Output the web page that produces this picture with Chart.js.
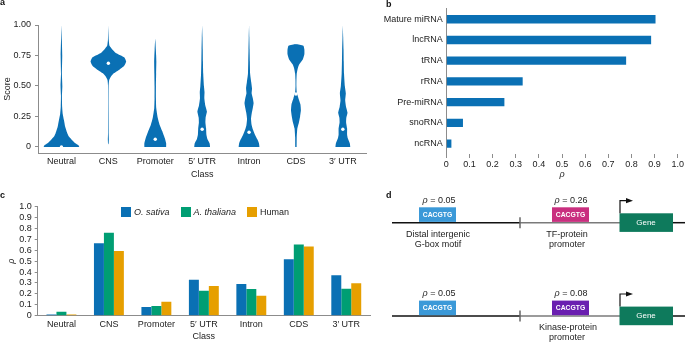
<!DOCTYPE html>
<html lang="en">
<head>
  <meta charset="UTF-8">
  <title>Conservation scores by class</title>
  <script src="https://cdn.jsdelivr.net/npm/chart.js"></script>
  <style>
    html, body { margin: 0; padding: 0; background: #fff; }
    body { width: 685px; height: 342px; position: relative; overflow: hidden;
           font-family: "Liberation Sans", Arial, sans-serif; color: #222; }
    canvas { position: absolute; }
    #chartA { left: 0; top: 0; }
    #chartB { left: 350px; top: 0; }
    #chartC { left: 0; top: 180px; }
    #legendC { position: absolute; left: 121px; top: 207px; display: flex; font-size: 9px; line-height: 10px; }
    #legendC .item { display: flex; align-items: center; margin-right: 11px; }
    #legendC .box { width: 10px; height: 10px; margin-right: 3px; }
    svg { position: absolute; left: 0; top: 0; pointer-events: none; }
  </style>
</head>
<body>
  <canvas id="chartA" width="372" height="180"></canvas>
  <canvas id="chartB" width="335" height="180"></canvas>
  <canvas id="chartC" width="372" height="162"></canvas>
  <div id="legendC"></div>

  <svg width="685" height="342" viewBox="0 0 685 342" font-family="Liberation Sans, Arial, sans-serif">
    <g font-weight="bold" font-size="9" fill="#111">
      <text x="0" y="5">a</text>
      <text x="386" y="7">b</text>
      <text x="0" y="198">c</text>
      <text x="386" y="198">d</text>
    </g>
    <!-- top locus: TF-protein -->
    <g>
      <line x1="392" y1="222.7" x2="520" y2="222.7" stroke="#111" stroke-width="1.5"/>
      <line x1="520" y1="222.7" x2="620" y2="222.7" stroke="#7a7a7a" stroke-width="1.5"/>
      <line x1="673" y1="222.7" x2="685" y2="222.7" stroke="#111" stroke-width="1.5"/>
      <line x1="520" y1="217.3" x2="520" y2="228.2" stroke="#666" stroke-width="1.5"/>
      <rect x="419" y="207.3" width="37" height="14.6" fill="#3b99d8"/>
      <text x="437.5" y="214.7" font-size="6.8" font-weight="bold" fill="#fff" text-anchor="middle" dominant-baseline="central">CACGTG</text>
      <text x="439" y="200" font-size="9" fill="#222" text-anchor="middle" dominant-baseline="central"><tspan font-style="italic">ρ</tspan> = 0.05</text>
      <rect x="552" y="207.3" width="37" height="14.6" fill="#c92f7f"/>
      <text x="570.5" y="214.7" font-size="6.8" font-weight="bold" fill="#fff" text-anchor="middle" dominant-baseline="central">CACGTG</text>
      <text x="571" y="200" font-size="9" fill="#222" text-anchor="middle" dominant-baseline="central"><tspan font-style="italic">ρ</tspan> = 0.26</text>
      <rect x="619.5" y="213.3" width="53.5" height="18.6" fill="#0e7a5c"/>
      <text x="646" y="222.7" font-size="8" fill="#fff" text-anchor="middle" dominant-baseline="central">Gene</text>
      <path d="M620 213.3 V200.7 H627" fill="none" stroke="#111" stroke-width="1.2"/>
      <path d="M626 198.1 L633 200.7 L626 203.3 Z" fill="#111"/>
      <text x="438" y="233.7" font-size="9" fill="#222" text-anchor="middle" dominant-baseline="central">Distal intergenic</text>
      <text x="438" y="244" font-size="9" fill="#222" text-anchor="middle" dominant-baseline="central">G-box motif</text>
      <text x="567" y="233.7" font-size="9" fill="#222" text-anchor="middle" dominant-baseline="central">TF-protein</text>
      <text x="567" y="244" font-size="9" fill="#222" text-anchor="middle" dominant-baseline="central">promoter</text>
    </g>
    <!-- bottom locus: kinase-protein -->
    <g transform="translate(0,93.3)">
      <line x1="392" y1="222.7" x2="520" y2="222.7" stroke="#111" stroke-width="1.5"/>
      <line x1="520" y1="222.7" x2="620" y2="222.7" stroke="#7a7a7a" stroke-width="1.5"/>
      <line x1="673" y1="222.7" x2="685" y2="222.7" stroke="#111" stroke-width="1.5"/>
      <line x1="520" y1="217.3" x2="520" y2="228.2" stroke="#666" stroke-width="1.5"/>
      <rect x="419" y="207.3" width="37" height="14.6" fill="#3b99d8"/>
      <text x="437.5" y="214.7" font-size="6.8" font-weight="bold" fill="#fff" text-anchor="middle" dominant-baseline="central">CACGTG</text>
      <text x="439" y="200" font-size="9" fill="#222" text-anchor="middle" dominant-baseline="central"><tspan font-style="italic">ρ</tspan> = 0.05</text>
      <rect x="552" y="207.3" width="37" height="14.6" fill="#6a1fb0"/>
      <text x="570.5" y="214.7" font-size="6.8" font-weight="bold" fill="#fff" text-anchor="middle" dominant-baseline="central">CACGTG</text>
      <text x="571" y="200" font-size="9" fill="#222" text-anchor="middle" dominant-baseline="central"><tspan font-style="italic">ρ</tspan> = 0.08</text>
      <rect x="619.5" y="213.3" width="53.5" height="18.6" fill="#0e7a5c"/>
      <text x="646" y="222.7" font-size="8" fill="#fff" text-anchor="middle" dominant-baseline="central">Gene</text>
      <path d="M620 213.3 V200.7 H627" fill="none" stroke="#111" stroke-width="1.2"/>
      <path d="M626 198.1 L633 200.7 L626 203.3 Z" fill="#111"/>
      <text x="568" y="233.7" font-size="9" fill="#222" text-anchor="middle" dominant-baseline="central">Kinase-protein</text>
      <text x="567" y="244" font-size="9" fill="#222" text-anchor="middle" dominant-baseline="central">promoter</text>
    </g>
  </svg>

  <script>
    // ---- data ----
    const classes = ['Neutral', 'CNS', 'Promoter', '5′ UTR', 'Intron', 'CDS', '3′ UTR'];
    const scoreTicks = [0, 0.25, 0.5, 0.75, 1];
    const scoreTickLabels = ['0', '0.25', '0.50', '0.75', '1.00'];
    const medianScore = [0, 0.686, 0.063, 0.145, 0.12, 0.434, 0.145];

    // violin outlines: score levels and relative density (half width) at each level
    const neutralLevels = [0, 0.015, 0.03, 0.055, 0.085, 0.115, 0.165, 0.22, 0.27, 0.33, 0.42, 0.5, 0.6, 0.75, 0.88, 1.0];
    const neutralDensity = [18, 17, 14, 10.8, 7.5, 5.8, 3.8, 2.5, 1.3, 0.7, 0.5, 0.9, 0.45, 0.8, 0.4, 0];
    const cnsLevels = [0.02, 0.03, 0.06, 0.09, 0.12, 0.3, 0.5, 0.55, 0.58, 0.6, 0.63, 0.665, 0.7, 0.735, 0.768, 0.8, 0.83, 0.88, 1.0];
    const cnsDensity = [0, 0.35, 0.5, 0.4, 0.3, 0.25, 0.3, 0.9, 2.8, 5, 10.7, 16, 18, 16, 8, 4, 1.2, 0.4, 0];
    const promoterLevels = [0, 0.03, 0.07, 0.13, 0.18, 0.24, 0.32, 0.4, 0.5, 0.6, 0.7, 0.75, 0.8, 0.86, 0.89];
    const promoterDensity = [11, 11, 9.7, 7, 4.5, 2.5, 1, 0.7, 0.7, 0.9, 1.1, 0.9, 0.6, 0.25, 0];
    const utr5Levels = [0, 0.03, 0.06, 0.1, 0.15, 0.2, 0.24, 0.29, 0.34, 0.4, 0.45, 0.5, 0.6, 0.7, 0.8, 0.9, 1.0];
    const utr5Density = [8, 7.5, 5.5, 4.3, 4, 3.3, 3.5, 4.8, 3.2, 2.2, 2.4, 1.8, 1.1, 0.8, 0.6, 0.35, 0];
    const intronLevels = [0, 0.03, 0.06, 0.1, 0.14, 0.18, 0.23, 0.28, 0.32, 0.36, 0.4, 0.44, 0.48, 0.53, 0.6, 0.7, 0.8, 0.9, 1.0];
    const intronDensity = [10.5, 10, 8.5, 6, 4, 2.6, 2, 2.8, 3.8, 4.6, 3.8, 2.6, 3, 2.2, 1.1, 0.8, 0.55, 0.3, 0];
    const cdsLevels = [0, 0.08, 0.15, 0.2, 0.25, 0.3, 0.35, 0.4, 0.45, 0.5, 0.55, 0.6, 0.65, 0.68, 0.72, 0.76, 0.8, 0.83, 0.845];
    const cdsDensity = [0.7, 0.8, 1.4, 3, 4.2, 5, 4.5, 2.5, 0.8, 0.45, 0.5, 0.8, 2, 3.5, 7, 8.5, 8.5, 7.5, 0];
    const utr3Levels = [0, 0.03, 0.07, 0.1, 0.15, 0.2, 0.24, 0.28, 0.33, 0.38, 0.44, 0.5, 0.6, 0.7, 0.8, 0.9, 1.0];
    const utr3Density = [7.5, 7, 5, 4.3, 4.3, 3.3, 3.5, 4.7, 3.2, 2.4, 3, 2, 1.2, 0.9, 0.7, 0.35, 0];

    const rnaClasses = ['Mature miRNA', 'lncRNA', 'tRNA', 'rRNA', 'Pre-miRNA', 'snoRNA', 'ncRNA'];
    const rnaRho = [0.904, 0.885, 0.777, 0.33, 0.251, 0.072, 0.022];

    const rhoTicks = [0, 0.1, 0.2, 0.3, 0.4, 0.5, 0.6, 0.7, 0.8, 0.9, 1.0];
    const rhoTickLabels = ['0', '0.1', '0.2', '0.3', '0.4', '0.5', '0.6', '0.7', '0.8', '0.9', '1.0'];

    const species = ['O. sativa', 'A. thaliana', 'Human'];
    const oSativaRho = [0.012, 0.664, 0.08, 0.33, 0.29, 0.517, 0.37];
    const aThalianaRho = [0.037, 0.761, 0.089, 0.229, 0.245, 0.654, 0.248];
    const humanRho = [0.01, 0.593, 0.128, 0.272, 0.183, 0.636, 0.297];

    // ---- styling ----
    const blue = '#0a70b4';
    const green = '#009e73';
    const orange = '#e69f00';
    const axisGrey = '#8c8c8c';
    const widestHalf = 0.38;   // widest violin half-width, in category units
    const maxDensity = 18;

    Chart.defaults.font.family = '"Liberation Sans", Arial, sans-serif';
    Chart.defaults.font.size = 9;
    Chart.defaults.color = '#222';
    Chart.defaults.animation = false;
    Chart.defaults.responsive = false;
    Chart.defaults.plugins.legend.display = false;
    Chart.defaults.plugins.tooltip.enabled = false;

    const fixTicks = values => axis => { axis.ticks = values.map(v => ({ value: v })); };

    // ---- a: violins ----
    const shapes = [
      [neutralLevels, neutralDensity], [cnsLevels, cnsDensity], [promoterLevels, promoterDensity],
      [utr5Levels, utr5Density], [intronLevels, intronDensity], [cdsLevels, cdsDensity], [utr3Levels, utr3Density]
    ];
    const violinSets = shapes.map(([levels, dens], i) => {
      const half = dens.map(d => d / maxDensity * widestHalf);
      const left = levels.map((y, k) => ({ x: i - half[k], y: y }));
      const right = levels.map((y, k) => ({ x: i + half[k], y: y })).reverse();
      return {
        label: classes[i],
        data: left.concat(right),
        showLine: true,
        fill: 'shape',
        backgroundColor: blue,
        borderWidth: 0,
        pointRadius: 0,
        tension: 0.15,
        order: 1
      };
    });

    new Chart(document.getElementById('chartA'), {
      type: 'scatter',
      data: {
        datasets: [{
          label: 'median',
          data: medianScore.map((m, i) => ({ x: i, y: m })),
          pointRadius: 1.7,
          backgroundColor: '#fff',
          borderWidth: 0,
          order: 0
        }].concat(violinSets)
      },
      options: {
        layout: { padding: { top: 25, right: 5.7, left: 0, bottom: 0 } },
        scales: {
          x: {
            type: 'linear', min: -0.5, max: 6.5,
            afterBuildTicks: fixTicks(classes.map((c, i) => i)),
            afterFit: s => { s.height = 27; },
            ticks: { callback: v => classes[v], autoSkip: false, maxRotation: 0, padding: 3.6 },
            grid: { display: false, drawTicks: false },
            border: { color: axisGrey },
            title: { display: true, text: 'Class', padding: 0 }
          },
          y: {
            min: -0.05, max: 1,
            afterBuildTicks: fixTicks(scoreTicks),
            afterFit: s => { s.width = 38; },
            ticks: { callback: (v, i) => scoreTickLabels[i], padding: 4 },
            grid: { drawOnChartArea: false, tickLength: 3, color: axisGrey },
            border: { color: axisGrey },
            title: { display: true, text: 'Score', padding: { top: 2, bottom: 0 } }
          }
        }
      }
    });

    // ---- b: horizontal bars ----
    new Chart(document.getElementById('chartB'), {
      type: 'bar',
      data: {
        labels: rnaClasses,
        datasets: [{ data: rnaRho, backgroundColor: blue, barPercentage: 0.4, categoryPercentage: 1 }]
      },
      options: {
        indexAxis: 'y',
        layout: { padding: { top: 8.7, right: 5.7, left: 0, bottom: 0 } },
        scales: {
          x: {
            min: 0, max: 1,
            afterBuildTicks: fixTicks(rhoTicks),
            afterFit: s => { s.height = 26; },
            ticks: { callback: (v, i) => rhoTickLabels[i], maxRotation: 0, autoSkip: false, padding: 1 },
            grid: { drawOnChartArea: false, tickLength: 4, color: axisGrey },
            border: { display: false },
            title: { display: true, text: 'ρ', font: { style: 'italic' }, padding: 0 }
          },
          y: {
            afterFit: s => { s.width = 96.3; },
            ticks: { padding: 3.5 },
            grid: { display: false, drawTicks: false },
            border: { color: axisGrey }
          }
        }
      }
    });

    // ---- c: grouped bars ----
    const chartC = new Chart(document.getElementById('chartC'), {
      type: 'bar',
      data: {
        labels: classes,
        datasets: [
          { label: species[0], data: oSativaRho, backgroundColor: blue, italic: true },
          { label: species[1], data: aThalianaRho, backgroundColor: green, italic: true },
          { label: species[2], data: humanRho, backgroundColor: orange }
        ]
      },
      options: {
        datasets: { bar: { barPercentage: 1, categoryPercentage: 0.63 } },
        layout: { padding: { top: 26.7, right: 2, left: 0, bottom: 0 } },
        scales: {
          x: {
            afterFit: s => { s.height = 26.3; },
            ticks: { autoSkip: false, maxRotation: 0, padding: 3 },
            grid: { display: false, drawTicks: false },
            border: { color: axisGrey },
            title: { display: true, text: 'Class', padding: 0 }
          },
          y: {
            min: 0, max: 1,
            afterBuildTicks: fixTicks(rhoTicks),
            afterFit: s => { s.width = 37.7; },
            ticks: { callback: (v, i) => rhoTickLabels[i], autoSkip: false, padding: 3 },
            grid: { drawOnChartArea: false, tickLength: 3, color: axisGrey },
            border: { color: axisGrey },
            title: { display: true, text: 'ρ', font: { style: 'italic' }, padding: { top: 6, bottom: 0 } }
          }
        }
      }
    });

    // html legend so the species names can be italic
    const legendEl = document.getElementById('legendC');
    chartC.data.datasets.forEach(ds => {
      const item = document.createElement('span');
      item.className = 'item';
      const box = document.createElement('span');
      box.className = 'box';
      box.style.background = ds.backgroundColor;
      const txt = document.createElement('span');
      txt.textContent = ds.label;
      if (ds.italic) txt.style.fontStyle = 'italic';
      item.appendChild(box);
      item.appendChild(txt);
      legendEl.appendChild(item);
    });
  </script>
</body>
</html>
